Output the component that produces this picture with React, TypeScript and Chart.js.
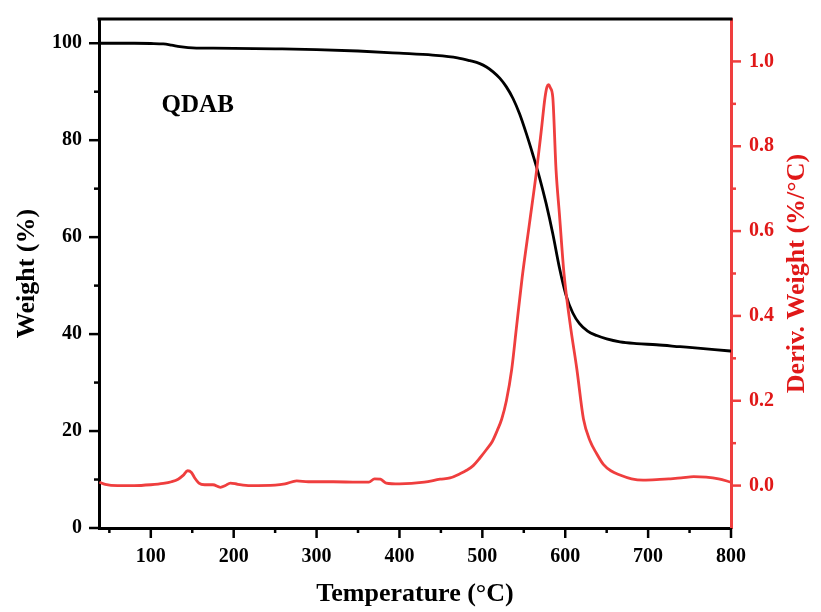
import React, { useEffect, useRef } from "react";
import { Chart, registerables } from "chart.js";

Chart.register(...registerables);

// ---- data ----
const weightTemps = [38, 60, 80, 100, 115, 125, 135, 145, 155, 170, 200, 250, 300, 350, 400, 440, 470, 485, 497, 505, 513, 521, 529, 537, 545, 553, 561, 569, 577, 585, 593, 601, 609, 617, 627, 638, 650, 666, 686, 710, 738.5, 760, 780, 800];
const weightValues = [100, 100, 100, 99.95, 99.85, 99.6, 99.3, 99.1, 99.0, 98.98, 98.95, 98.85, 98.7, 98.4, 97.95, 97.55, 97.0, 96.4, 95.8, 95.1, 94.1, 92.8, 91.0, 88.6, 85.4, 81.4, 77.0, 72.3, 66.9, 60.7, 53.7, 48.0, 44.4, 42.2, 40.6, 39.7, 39.0, 38.4, 38.05, 37.8, 37.4, 37.1, 36.8, 36.5];

const derivTemps = [38, 45, 60, 80, 100, 115, 125, 133, 139, 144.5, 149, 153, 158, 165, 175, 184, 190, 196, 205, 220, 250, 262, 276, 290, 320, 350, 363, 370, 377, 384, 400, 430, 449, 461, 473, 481, 489, 497, 505, 512, 518, 523.4, 529, 535.5, 541, 548, 557, 565.6, 571, 575.6, 578, 580, 582, 585, 588.9, 593, 598.5, 606, 614, 622, 630, 638, 646, 655, 666, 680, 694, 710, 725, 740, 755, 770, 785, 800];
const derivValues = [0.008, 0.003, 0.0, 0.0, 0.002, 0.005, 0.009, 0.015, 0.024, 0.035, 0.031, 0.018, 0.006, 0.002, 0.002, -0.004, 0.0, 0.006, 0.003, 0.0, 0.001, 0.004, 0.011, 0.009, 0.009, 0.008, 0.008, 0.016, 0.015, 0.006, 0.004, 0.008, 0.015, 0.018, 0.028, 0.036, 0.047, 0.065, 0.085, 0.104, 0.13, 0.157, 0.2, 0.275, 0.37, 0.49, 0.62, 0.745, 0.835, 0.915, 0.94, 0.945, 0.938, 0.915, 0.745, 0.64, 0.5, 0.38, 0.275, 0.157, 0.105, 0.075, 0.05, 0.035, 0.025, 0.016, 0.013, 0.014, 0.016, 0.018, 0.021, 0.02, 0.016, 0.008];

const xMajorTicks = [100, 200, 300, 400, 500, 600, 700, 800];
const xMinorTicks = [50, 150, 250, 350, 450, 550, 650, 750];
const leftMajorTicks = [0, 20, 40, 60, 80, 100];
const leftMinorTicks = [10, 30, 50, 70, 90];
const rightMajorTicks = [0, 0.2, 0.4, 0.6, 0.8, 1.0];
const rightMinorTicks = [0.1, 0.3, 0.5, 0.7, 0.9];

const xTitle = "Temperature (°C)";
const leftTitle = "Weight (%)";
const rightTitle = "Deriv. Weight (%/°C)";
const sampleName = "QDAB";
const sampleNameAt = { x: 113, y: 85.8 };

const FONT = "'Liberation Serif', 'Times New Roman', serif";
const RED_LINE = "#ef3e3e";
const RED_TEXT = "#e01818";

const frameAndTicks = {
  id: "frameAndTicks",
  afterDraw(chart: any) {
    const { ctx, chartArea: a, scales } = chart;
    const xs = scales.x;
    const yl = scales.y;
    const yr = scales.y1;
    ctx.save();
    ctx.lineCap = "butt";
    ctx.strokeStyle = "#000";
    ctx.lineWidth = 3;
    ctx.beginPath();
    ctx.moveTo(a.left - 1.5, a.top);
    ctx.lineTo(a.right + 1.5, a.top);
    ctx.stroke();

    ctx.lineWidth = 2.5;
    const drawX = (vals: number[], len: number) => {
      ctx.strokeStyle = "#000";
      for (const v of vals) {
        const p = xs.getPixelForValue(v);
        if (p < a.left - 0.5 || p > a.right + 0.5) continue;
        ctx.beginPath();
        ctx.moveTo(p, a.bottom);
        ctx.lineTo(p, a.bottom + len);
        ctx.stroke();
      }
    };
    const drawL = (vals: number[], len: number) => {
      ctx.strokeStyle = "#000";
      for (const v of vals) {
        const p = yl.getPixelForValue(v);
        ctx.beginPath();
        ctx.moveTo(a.left, p);
        ctx.lineTo(a.left - len, p);
        ctx.stroke();
      }
    };
    const drawR = (vals: number[], len: number) => {
      ctx.strokeStyle = RED_LINE;
      for (const v of vals) {
        const p = yr.getPixelForValue(v);
        ctx.beginPath();
        ctx.moveTo(a.right, p);
        ctx.lineTo(a.right + len, p);
        ctx.stroke();
      }
    };
    drawX(xMajorTicks, 10);
    drawX(xMinorTicks, 5);
    drawL(leftMajorTicks, 10);
    drawL(leftMinorTicks, 5);
    drawR(rightMajorTicks, 10);
    drawR(rightMinorTicks, 5);

    ctx.fillStyle = RED_TEXT;
    ctx.font = `bold 26px ${FONT}`;
    ctx.textAlign = "center";
    ctx.textBaseline = "middle";
    ctx.translate(797, (a.top + a.bottom) / 2);
    ctx.rotate(-Math.PI / 2);
    ctx.fillText(rightTitle, 0, 0);
    ctx.restore();

    ctx.save();
    ctx.fillStyle = "#000";
    ctx.font = `bold 25px ${FONT}`;
    ctx.textAlign = "left";
    ctx.textBaseline = "alphabetic";
    ctx.fillText(sampleName, xs.getPixelForValue(sampleNameAt.x), yl.getPixelForValue(sampleNameAt.y));
    ctx.restore();
  },
};

export default function App() {
  const ref = useRef<HTMLCanvasElement | null>(null);
  useEffect(() => {
    if (!ref.current) return;
    const chart = new Chart(ref.current, {
      type: "line",
      data: {
        datasets: [
          {
            label: "DTG",
            data: derivTemps.map((t, i) => ({ x: t, y: derivValues[i] })),
            yAxisID: "y1",
            borderColor: RED_LINE,
            borderWidth: 2.8,
            pointRadius: 0,
            cubicInterpolationMode: "monotone",
            fill: false,
          },
          {
            label: "TG",
            data: weightTemps.map((t, i) => ({ x: t, y: weightValues[i] })),
            yAxisID: "y",
            borderColor: "#000",
            borderWidth: 2.8,
            pointRadius: 0,
            cubicInterpolationMode: "monotone",
            fill: false,
          },
        ],
      },
      options: {
        responsive: false,
        animation: false,
        events: [],
        layout: { padding: { top: 19, left: 0, right: 0, bottom: 0 } },
        plugins: { legend: { display: false }, tooltip: { enabled: false } },
        scales: {
          x: {
            type: "linear",
            min: 37.5,
            max: 800,
            afterBuildTicks: (s: any) => {
              s.ticks = xMajorTicks.map((v) => ({ value: v }));
            },
            afterFit: (s: any) => {
              s.height = 84;
              s.paddingLeft = 0;
              s.paddingRight = 0;
            },
            grid: { display: false, drawTicks: false },
            border: { display: true, color: "#000", width: 3 },
            ticks: {
              padding: 17,
              color: "#000",
              maxRotation: 0,
              font: { family: FONT, size: 20, weight: "bold" },
              callback: (v: any) => String(v),
            },
            title: {
              display: true,
              text: xTitle,
              color: "#000",
              font: { family: FONT, size: 26, weight: "bold" },
              padding: { top: 0, bottom: 2 },
            },
          },
          y: {
            type: "linear",
            position: "left",
            min: 0,
            max: 105,
            afterBuildTicks: (s: any) => {
              s.ticks = leftMajorTicks.map((v) => ({ value: v }));
            },
            afterFit: (s: any) => {
              s.width = 99;
              s.paddingTop = 0;
              s.paddingBottom = 0;
            },
            grid: { display: false, drawTicks: false },
            border: { display: true, color: "#000", width: 3 },
            ticks: {
              padding: 17,
              color: "#000",
              font: { family: FONT, size: 20, weight: "bold" },
              callback: (v: any) => String(v),
            },
            title: {
              display: true,
              text: leftTitle,
              color: "#000",
              font: { family: FONT, size: 26, weight: "bold" },
              padding: { top: 12, bottom: 0 },
            },
          },
          y1: {
            type: "linear",
            position: "right",
            min: -0.1,
            max: 1.1,
            afterBuildTicks: (s: any) => {
              s.ticks = rightMajorTicks.map((v) => ({ value: v }));
            },
            afterFit: (s: any) => {
              s.width = 90;
              s.paddingTop = 0;
              s.paddingBottom = 0;
            },
            grid: { display: false, drawTicks: false },
            border: { display: true, color: RED_LINE, width: 3 },
            ticks: {
              padding: 18,
              color: RED_TEXT,
              font: { family: FONT, size: 20, weight: "bold" },
              callback: (v: any) => Number(v).toFixed(1),
            },
            title: { display: false },
          },
        },
      },
      plugins: [frameAndTicks],
    });
    return () => chart.destroy();
  }, []);
  return (
    <div style={{ position: "fixed", left: 0, top: 0, width: 821, height: 612, background: "#fff" }}>
      <canvas ref={ref} width={821} height={612} style={{ display: "block" }} />
    </div>
  );
}
